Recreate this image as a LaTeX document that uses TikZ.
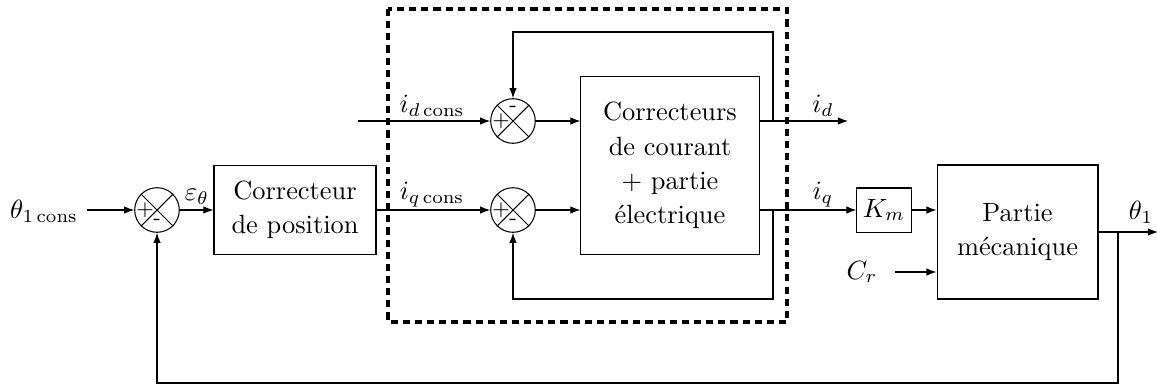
\documentclass[tikz,border=0pt]{standalone}
\usetikzlibrary{arrows.meta,calc}
\begin{document}
\begin{tikzpicture}[x=0.379pt,y=-0.379pt,
  >={Latex[length=3.8pt,width=2.8pt]},
  blk/.style={draw,inner sep=0pt,align=center,execute at begin node=\setlength{\baselineskip}{13pt}},
  sumnode/.style={draw,circle,minimum size=16.9pt,inner sep=0pt},
  sig/.style={font=\footnotesize,inner sep=0pt},
  dbox/.style={line width=1.2pt,dash pattern=on 2.7pt off 1.9pt}]
\useasboundingbox (0,0) rectangle (1158,389);

% dashed frame
\draw[dbox] (388,9) rectangle (787,322);

% nodes
\node (in) at (44,211) {$\theta_{1\,\mathrm{cons}}$};
\node[sumnode] (s1) at (157,210) {};
\node[blk,minimum width=61.4pt,minimum height=33.7pt] (cp) at (295,210) {Correcteur\\de position};
\node[sumnode] (sd) at (513,121) {};
\node[sumnode] (sq) at (513,210) {};
\node[blk,minimum width=67.5pt,minimum height=67.5pt] (cc) at (670,165.5) {Correcteurs\\de courant\\+ partie\\électrique};
\node[blk,minimum width=20.5pt,minimum height=16.7pt] (km) at (884,210) {$K_m$};
\node[blk,minimum width=61pt,minimum height=50.8pt] (pm) at (1017.5,232) {Partie\\mécanique};
\node (cr) at (862,272) {$C_r$};

% crosses and signs
\foreach \s in {s1,sd,sq}{
  \draw (\s.45) -- (\s.225) (\s.135) -- (\s.315);
  \node[sig] at ($(\s)+(-12,0)$) {+};
}
\node[sig] at ($(s1)+(0,12)$) {-};
\node[sig] at ($(sd)+(0,-12)$) {-};
\node[sig] at ($(sq)+(0,12)$) {-};

% labels
\node at (197,197) {$\varepsilon_\theta$};
\node at (432,106) {$i_{d\,\mathrm{cons}}$};
\node at (432,195) {$i_{q\,\mathrm{cons}}$};
\node at (823,106) {$i_d$};
\node at (823,195) {$i_q$};
\node at (1141,212) {$\theta_1$};

% coordinates
\coordinate (din) at (358,121);
\coordinate (idout) at (848,121);
\coordinate (fd) at (773,121);
\coordinate (fq) at (773,210);
\coordinate (out) at (1158,232);
\coordinate (br) at (1118,232);

% connectors
\draw[->] (in.east |- s1) -- (s1.west);
\draw[->] (s1.east) -- (cp.west);
\draw[->] (cp.east) -- (sq.west);
\draw[->] (din) -- (sd.west);
\draw[->] (sd.east) -- (sd.east -| cc.west);
\draw[->] (sq.east) -- (sq.east -| cc.west);
\draw[->] (cc.east |- sd) -- (idout);
\draw[->] (cc.east |- sq) -- (km.west);
\draw[->] (fd) -- ++(0,-89) -| (sd.north);
\draw[->] (fq) -- ++(0,89) -| (sq.south);
\draw[->] (km.east) -- (km.east -| pm.west);
\draw[->] ([xshift=3pt]cr.east) -- (cr.east -| pm.west);
\draw[->] (pm.east |- out) -- (out);
\draw[->] (br) -- ++(0,151) -| (s1.south);
\end{tikzpicture}
\end{document}
